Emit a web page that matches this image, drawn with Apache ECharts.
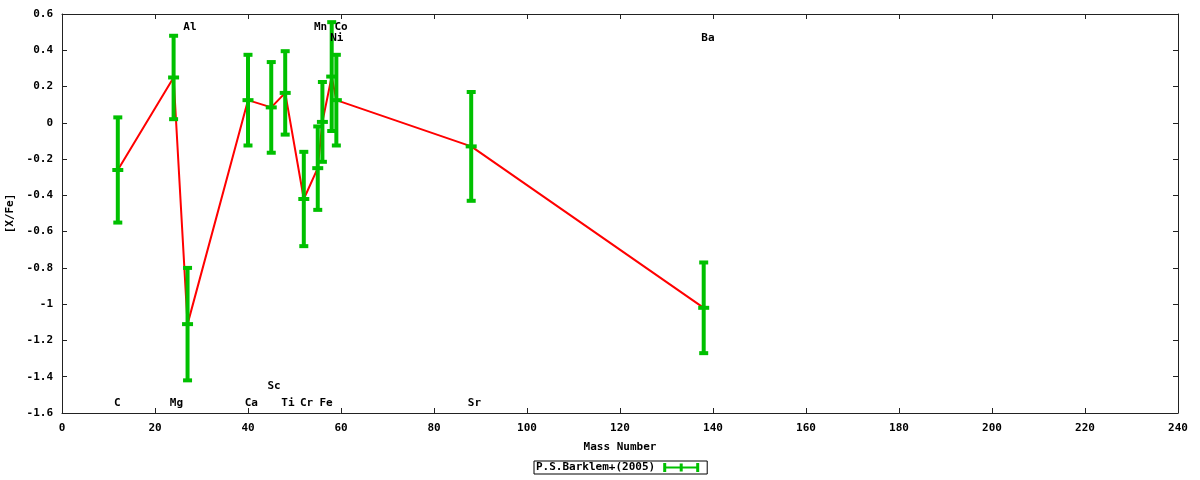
<!DOCTYPE html>
<html>
<head>
<meta charset="utf-8">
<script src="https://cdn.jsdelivr.net/npm/echarts@6/dist/echarts.min.js"></script>
<style>html,body{margin:0;padding:0;background:#fff}#c{width:1200px;height:480px}</style>
</head>
<body>
<div id="c"></div>
<script>
// Data
const massNumbers = [12, 24, 27, 40, 45, 48, 52, 55, 56, 58, 59, 88, 138];
const xFeValues   = [-0.26, 0.25, -1.11, 0.125, 0.085, 0.165, -0.42, -0.25, 0.005, 0.255, 0.125, -0.13, -1.02];
const xFeErrors   = [0.29, 0.23, 0.31, 0.25, 0.25, 0.23, 0.26, 0.23, 0.22, 0.30, 0.25, 0.30, 0.25];
const seriesName  = 'P.S.Barklem+(2005)';

// Element name labels and their positions in data coordinates
const labelNames = ['C', 'Mg', 'Al', 'Ca', 'Sc', 'Ti', 'Cr', 'Mn', 'Fe', 'Co', 'Ni', 'Sr', 'Ba'];
const labelX     = [11.9, 24.6, 27.5, 40.7, 45.6, 48.6, 52.6, 55.6, 56.8, 60.0, 59.1, 88.7, 138.9];
const labelY     = [-1.543, -1.543, 0.528, -1.543, -1.452, -1.543, -1.543, 0.528, -1.543, 0.528, 0.466, -1.543, 0.466];

// Axis settings
const xMin = 0, xMax = 240, xStep = 20;
const yMin = -1.6, yMax = 0.6, yStep = 0.2;

const FONT = 'DejaVu Sans Mono';
const GREEN = '#00c000';
const AX = '#222';

const errData = massNumbers.map((m, i) => [m, xFeValues[i], xFeErrors[i]]);
const lineData = massNumbers.map((m, i) => [m, xFeValues[i]]);
const labelData = labelNames.map((n, i) => ({ value: [labelX[i], labelY[i]], name: n }));

const chart = echarts.init(document.getElementById('c'), null, { renderer: 'canvas' });

function renderErr(params, api) {
  const x = api.value(0), v = api.value(1), e = api.value(2);
  const top = api.coord([x, v + e]);
  const bot = api.coord([x, v - e]);
  const mid = api.coord([x, v]);
  const style = { fill: GREEN };
  const lw = 4, capW = 9, capH = 4, midW = 11;
  return {
    type: 'group',
    children: [
      { type: 'rect', shape: { x: top[0] - lw / 2, y: top[1], width: lw, height: bot[1] - top[1] }, style },
      { type: 'rect', shape: { x: top[0] - capW / 2, y: top[1] - capH / 2, width: capW, height: capH }, style },
      { type: 'rect', shape: { x: bot[0] - capW / 2, y: bot[1] - capH / 2, width: capW, height: capH }, style },
      { type: 'rect', shape: { x: mid[0] - midW / 2, y: mid[1] - capH / 2, width: midW, height: capH }, style }
    ]
  };
}

const axisCommonX = {
  type: 'value', min: xMin, max: xMax, interval: xStep,
  axisLine: { show: true, onZero: false, lineStyle: { color: AX, width: 1 } },
  axisTick: { show: true, inside: true, length: 5, lineStyle: { color: AX } },
  splitLine: { show: false }
};
const axisCommonY = {
  type: 'value', min: yMin, max: yMax, interval: yStep,
  axisLine: { show: true, onZero: false, lineStyle: { color: AX, width: 1 } },
  axisTick: { show: true, inside: true, length: 5, lineStyle: { color: AX } },
  splitLine: { show: false }
};

chart.setOption({
  animation: false,
  backgroundColor: '#fff',
  textStyle: { fontFamily: FONT },
  grid: { left: 62, right: 22, top: 14, bottom: 67, containLabel: false, outerBoundsMode: 'none' },
  xAxis: [
    Object.assign({}, axisCommonX, {
      position: 'bottom',
      name: 'Mass Number', nameLocation: 'middle', nameGap: 29,
      nameTextStyle: { fontFamily: FONT, fontWeight: 'bold', fontSize: 11, color: '#000' },
      axisLabel: { margin: 10, fontFamily: FONT, fontWeight: 'bold', fontSize: 11, color: '#000' }
    }),
    Object.assign({}, axisCommonX, { position: 'top', axisLabel: { show: false } })
  ],
  yAxis: [
    Object.assign({}, axisCommonY, {
      position: 'left',
      name: '[X/Fe]', nameLocation: 'middle', nameGap: 44, nameRotate: 90,
      nameTextStyle: { fontFamily: FONT, fontWeight: 'bold', fontSize: 11, color: '#000' },
      axisLabel: { margin: 9, fontFamily: FONT, fontWeight: 'bold', fontSize: 11, color: '#000' }
    }),
    Object.assign({}, axisCommonY, { position: 'right', axisLabel: { show: false } })
  ],
  legend: {
    data: [{ name: seriesName, icon: 'path://M0,3.5h36v2h-36z M0,0h3v9h-3z M16.5,0.5h3v8h-3z M33,0h3v9h-3z' }],
    left: 534, top: 461,
    align: 'right',
    itemWidth: 36, itemHeight: 9,
    padding: [1, 8, 1, 2],
    itemGap: 0,
    borderColor: '#000', borderWidth: 1,
    textStyle: { fontFamily: FONT, fontWeight: 'bold', fontSize: 11, color: '#000', padding: [0, 3, 0, 0] },
    selectedMode: false
  },
  series: [
    {
      name: 'line', type: 'line', data: lineData, showSymbol: false, symbol: 'none',
      lineStyle: { color: '#ff0000', width: 2 }, z: 2, silent: true
    },
    {
      name: seriesName, type: 'custom', data: errData, renderItem: renderErr,
      encode: { x: 0, y: 1 }, itemStyle: { color: GREEN }, z: 3, silent: true
    },
    {
      name: 'labels', type: 'scatter', data: labelData, symbolSize: 0, silent: true, z: 4,
      itemStyle: { opacity: 1, color: '#000' },
      label: {
        show: true, position: 'inside', formatter: p => p.name,
        fontFamily: FONT, fontWeight: 'bold', fontSize: 11, color: '#000',
        textBorderWidth: 0, opacity: 1
      }
    }
  ]
});
</script>
</body>
</html>
